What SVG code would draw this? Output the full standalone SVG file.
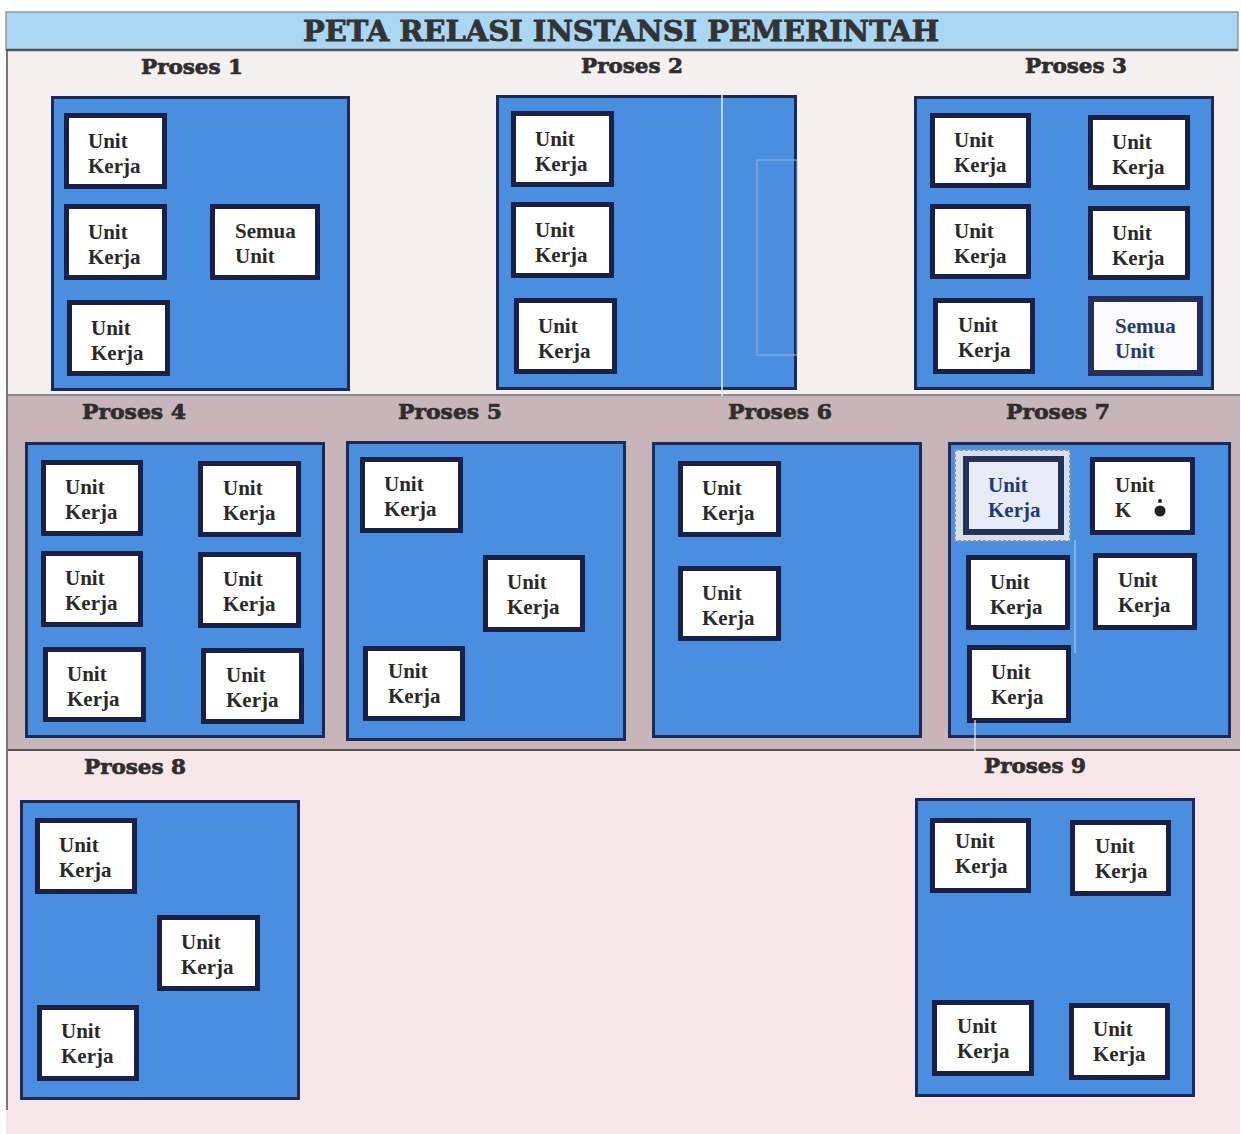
<svg xmlns="http://www.w3.org/2000/svg" width="1241" height="1134" viewBox="0 0 1241 1134">
<style>
.bg1{fill:#f4f0ef}
.bg2{fill:#c8b5ba}
.bg3{fill:#f6e6ea}
.panel{fill:#4a8ee0;stroke:#1c2a55;stroke-width:3}
.box{fill:#ffffff;stroke:#1b2145;stroke-width:5}
.t{font-family:"Liberation Serif","Times New Roman",serif;font-weight:bold;font-size:21px;fill:#2a2a2a}
.tn{font-family:"Liberation Serif","Times New Roman",serif;font-weight:bold;font-size:21px;fill:#223a72}
.lbl{font-family:"DejaVu Serif",serif;font-weight:bold;font-size:21px;fill:#2e2e2e;stroke:#2e2e2e;stroke-width:0.7;text-anchor:middle}
.title{font-family:"DejaVu Serif",serif;font-weight:bold;font-size:28px;fill:#333333;stroke:#333333;stroke-width:0.8;text-anchor:middle}
</style>
<rect x="0" y="0" width="1241" height="1134" fill="#ffffff"/>
<rect class="bg1" x="6" y="50" width="1234" height="345"/>
<rect class="bg2" x="6" y="395" width="1234" height="355"/>
<rect class="bg3" x="6" y="750" width="1234" height="384"/>
<line x1="6" y1="395" x2="1240" y2="395" stroke="#8a8a8a" stroke-width="2"/>
<line x1="6" y1="750" x2="1240" y2="750" stroke="#555" stroke-width="2"/>
<line x1="7" y1="12" x2="7" y2="1110" stroke="#777" stroke-width="2"/>
<g id="title">
<rect x="6" y="12" width="1232" height="38" fill="#a9d6f0" stroke="#8a9aa8" stroke-width="1.5"/>
<line x1="6" y1="50" x2="1238" y2="50" stroke="#555" stroke-width="2.5"/>
<text class="title" x="621" y="41" textLength="636" lengthAdjust="spacingAndGlyphs">PETA RELASI INSTANSI PEMERINTAH</text>
</g>
<g id="labels">
<text class="lbl" x="192" y="74" textLength="102" lengthAdjust="spacingAndGlyphs">Proses 1</text>
<text class="lbl" x="632" y="73" textLength="102" lengthAdjust="spacingAndGlyphs">Proses 2</text>
<text class="lbl" x="1076" y="73" textLength="102" lengthAdjust="spacingAndGlyphs">Proses 3</text>
<text class="lbl" x="134" y="419" textLength="104" lengthAdjust="spacingAndGlyphs">Proses 4</text>
<text class="lbl" x="450" y="419" textLength="104" lengthAdjust="spacingAndGlyphs">Proses 5</text>
<text class="lbl" x="780" y="419" textLength="104" lengthAdjust="spacingAndGlyphs">Proses 6</text>
<text class="lbl" x="1058" y="419" textLength="104" lengthAdjust="spacingAndGlyphs">Proses 7</text>
<text class="lbl" x="135" y="774" textLength="102" lengthAdjust="spacingAndGlyphs">Proses 8</text>
<text class="lbl" x="1035" y="773" textLength="102" lengthAdjust="spacingAndGlyphs">Proses 9</text>
</g>
<g id="connectors"></g>
<g id="proses1">
<rect class="panel" x="52.5" y="97.5" width="296" height="292"/>
<rect class="box" x="66.5" y="115.5" width="98" height="71"/><text class="t" x="88" y="148">Unit</text><text class="t" x="88" y="173">Kerja</text>
<rect class="box" x="66.5" y="206.5" width="98" height="71"/><text class="t" x="88" y="239">Unit</text><text class="t" x="88" y="264">Kerja</text>
<rect class="box" x="212.5" y="206.5" width="105" height="71"/><text class="t" x="235" y="238">Semua</text><text class="t" x="235" y="263">Unit</text>
<rect class="box" x="69.5" y="302.5" width="98" height="71"/><text class="t" x="91" y="335">Unit</text><text class="t" x="91" y="360">Kerja</text>
</g>
<g id="proses2">
<rect class="panel" x="497.5" y="96.5" width="298" height="292"/>
<line x1="722" y1="95" x2="722" y2="396" stroke="#e8eef8" stroke-width="1.5"/>
<rect x="757" y="160" width="40" height="195" fill="none" stroke="#9fb4d6" stroke-width="1"/>
<rect class="box" x="513.5" y="113.5" width="98" height="71"/><text class="t" x="535" y="146">Unit</text><text class="t" x="535" y="171">Kerja</text>
<rect class="box" x="513.5" y="204.5" width="98" height="71"/><text class="t" x="535" y="237">Unit</text><text class="t" x="535" y="262">Kerja</text>
<rect class="box" x="516.5" y="300.5" width="98" height="71"/><text class="t" x="538" y="333">Unit</text><text class="t" x="538" y="358">Kerja</text>
</g>
<g id="proses3">
<rect class="panel" x="915.5" y="97.5" width="297" height="291"/>
<rect class="box" x="932.5" y="115.5" width="96" height="70"/><text class="t" x="954" y="147">Unit</text><text class="t" x="954" y="172">Kerja</text>
<rect class="box" x="1090.5" y="117.5" width="97" height="70"/><text class="t" x="1112" y="149">Unit</text><text class="t" x="1112" y="174">Kerja</text>
<rect class="box" x="932.5" y="206.5" width="96" height="70"/><text class="t" x="954" y="238">Unit</text><text class="t" x="954" y="263">Kerja</text>
<rect class="box" x="1090.5" y="208.5" width="97" height="69"/><text class="t" x="1112" y="240">Unit</text><text class="t" x="1112" y="265">Kerja</text>
<rect class="box" x="935.5" y="300.5" width="97" height="71"/><text class="t" x="958" y="332">Unit</text><text class="t" x="958" y="357">Kerja</text>
<rect x="1091" y="299" width="109" height="74" fill="#fbfbfd" stroke="#24305a" stroke-width="6"/><text class="tn" x="1115" y="333">Semua</text><text class="tn" x="1115" y="358">Unit</text>
</g>
<g id="proses4">
<rect class="panel" x="26.5" y="443.5" width="297" height="293"/>
<rect class="box" x="43.5" y="462.5" width="97" height="71"/><text class="t" x="65" y="494">Unit</text><text class="t" x="65" y="519">Kerja</text>
<rect class="box" x="200.5" y="463.5" width="98" height="71"/><text class="t" x="223" y="495">Unit</text><text class="t" x="223" y="520">Kerja</text>
<rect class="box" x="43.5" y="553.5" width="97" height="71"/><text class="t" x="65" y="585">Unit</text><text class="t" x="65" y="610">Kerja</text>
<rect class="box" x="200.5" y="554.5" width="98" height="71"/><text class="t" x="223" y="586">Unit</text><text class="t" x="223" y="611">Kerja</text>
<rect class="box" x="45.5" y="649.5" width="98" height="70"/><text class="t" x="67" y="681">Unit</text><text class="t" x="67" y="706">Kerja</text>
<rect class="box" x="203.5" y="650.5" width="98" height="71"/><text class="t" x="226" y="682">Unit</text><text class="t" x="226" y="707">Kerja</text>
</g>
<g id="proses5">
<rect class="panel" x="347.5" y="442.5" width="277" height="297"/>
<rect class="box" x="362.5" y="459.5" width="98" height="71"/><text class="t" x="384" y="491">Unit</text><text class="t" x="384" y="516">Kerja</text>
<rect class="box" x="485.5" y="557.5" width="97" height="72"/><text class="t" x="507" y="589">Unit</text><text class="t" x="507" y="614">Kerja</text>
<rect class="box" x="365.5" y="648.5" width="97" height="70"/><text class="t" x="388" y="678">Unit</text><text class="t" x="388" y="703">Kerja</text>
</g>
<g id="proses6">
<rect class="panel" x="653.5" y="443.5" width="267" height="293"/>
<rect class="box" x="680.5" y="463.5" width="98" height="71"/><text class="t" x="702" y="495">Unit</text><text class="t" x="702" y="520">Kerja</text>
<rect class="box" x="680.5" y="568.5" width="98" height="70"/><text class="t" x="702" y="600">Unit</text><text class="t" x="702" y="625">Kerja</text>
</g>
<g id="proses7">
<rect class="panel" x="949.5" y="443.5" width="280" height="293"/>
<rect x="955" y="450" width="115" height="91" fill="#d8dfe9" stroke="#8a93a8" stroke-width="2" stroke-dasharray="3 2"/>
<rect x="966" y="459" width="95" height="73" fill="#e6ecf5" stroke="#253258" stroke-width="6"/><text class="tn" x="988" y="492">Unit</text><text class="tn" x="988" y="517">Kerja</text>
<rect class="box" x="1092.5" y="459.5" width="100" height="73"/><text class="t" x="1115" y="492">Unit</text><text class="t" x="1115" y="517">K</text>
<circle cx="1160" cy="511" r="5.5" fill="#222"/><circle cx="1160" cy="501" r="2" fill="#222"/>
<rect class="box" x="968.5" y="557.5" width="99" height="70"/><text class="t" x="990" y="589">Unit</text><text class="t" x="990" y="614">Kerja</text>
<rect class="box" x="1095.5" y="555.5" width="99" height="72"/><text class="t" x="1118" y="587">Unit</text><text class="t" x="1118" y="612">Kerja</text>
<rect class="box" x="969.5" y="647.5" width="99" height="73"/><text class="t" x="991" y="679">Unit</text><text class="t" x="991" y="704">Kerja</text>
<line x1="975" y1="720" x2="975" y2="752" stroke="#e8eef8" stroke-width="1.2"/>
<line x1="1075" y1="540" x2="1075" y2="653" stroke="#c5d3ea" stroke-width="1"/>
</g>
<g id="proses8">
<rect class="panel" x="21.5" y="801.5" width="277" height="297"/>
<rect class="box" x="37.5" y="820.5" width="97" height="71"/><text class="t" x="59" y="852">Unit</text><text class="t" x="59" y="877">Kerja</text>
<rect class="box" x="159.5" y="917.5" width="98" height="71"/><text class="t" x="181" y="949">Unit</text><text class="t" x="181" y="974">Kerja</text>
<rect class="box" x="39.5" y="1007.5" width="97" height="71"/><text class="t" x="61" y="1038">Unit</text><text class="t" x="61" y="1063">Kerja</text>
</g>
<g id="proses9">
<rect class="panel" x="916.5" y="799.5" width="277" height="296"/>
<rect class="box" x="932.5" y="820.5" width="96" height="70"/><text class="t" x="955" y="848">Unit</text><text class="t" x="955" y="873">Kerja</text>
<rect class="box" x="1072.5" y="822.5" width="96" height="71"/><text class="t" x="1095" y="853">Unit</text><text class="t" x="1095" y="878">Kerja</text>
<rect class="box" x="934.5" y="1002.5" width="97" height="71"/><text class="t" x="957" y="1033">Unit</text><text class="t" x="957" y="1058">Kerja</text>
<rect class="box" x="1071.5" y="1005.5" width="96" height="72"/><text class="t" x="1093" y="1036">Unit</text><text class="t" x="1093" y="1061">Kerja</text>
</g>
</svg>
